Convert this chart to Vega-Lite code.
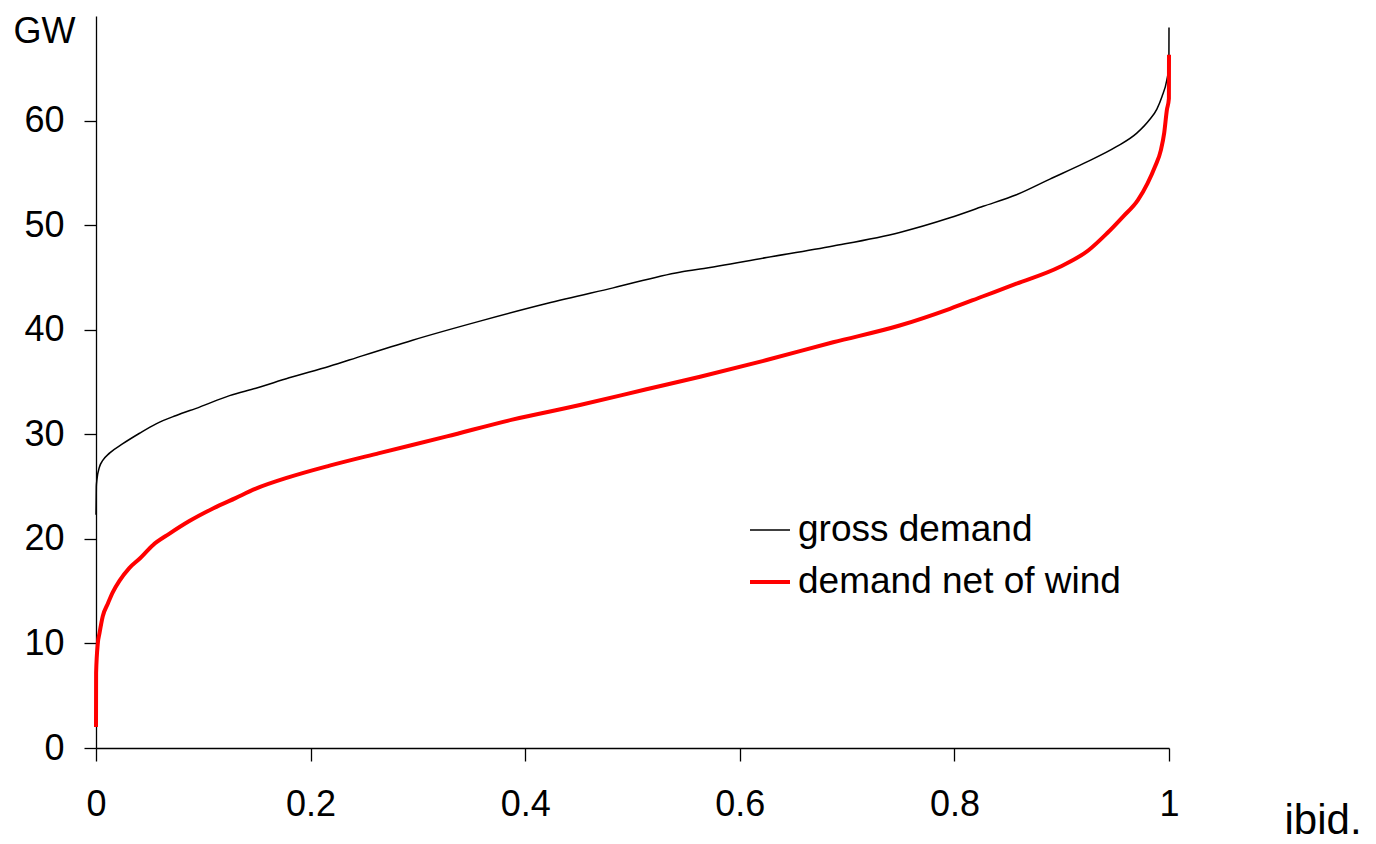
{
  "$schema": "https://vega.github.io/schema/vega-lite/v6.json",
  "width": 1073,
  "height": 732,
  "autosize": {"type": "none"},
  "padding": {"left": 96, "top": 16, "right": 207, "bottom": 96},
  "background": "white",
  "config": {
    "view": {"stroke": null},
    "font": "Liberation Sans",
    "axis": {"grid": false, "domainColor": "black", "tickColor": "black", "labelColor": "black", "titleColor": "black", "labelFont": "Liberation Sans", "titleFont": "Liberation Sans", "labelFontSize": 36, "titleFontWeight": "normal", "domainWidth": 1.3, "tickWidth": 1.3}
  },
  "data": {
    "values": [
      {"series": "gross demand", "i": 0, "x": 0, "gw": 22.3},
      {"series": "gross demand", "i": 1, "x": 0.0003, "gw": 25.0},
      {"series": "gross demand", "i": 2, "x": 0.0008, "gw": 25.6},
      {"series": "gross demand", "i": 3, "x": 0.0033, "gw": 26.9},
      {"series": "gross demand", "i": 4, "x": 0.0063, "gw": 27.5},
      {"series": "gross demand", "i": 5, "x": 0.0126, "gw": 28.2},
      {"series": "gross demand", "i": 6, "x": 0.025, "gw": 29.1},
      {"series": "gross demand", "i": 7, "x": 0.0406, "gw": 30.1},
      {"series": "gross demand", "i": 8, "x": 0.056, "gw": 31.0},
      {"series": "gross demand", "i": 9, "x": 0.0748, "gw": 31.8},
      {"series": "gross demand", "i": 10, "x": 0.0965, "gw": 32.6},
      {"series": "gross demand", "i": 11, "x": 0.1245, "gw": 33.7},
      {"series": "gross demand", "i": 12, "x": 0.149, "gw": 34.4},
      {"series": "gross demand", "i": 13, "x": 0.18, "gw": 35.4},
      {"series": "gross demand", "i": 14, "x": 0.2177, "gw": 36.5},
      {"series": "gross demand", "i": 15, "x": 0.248, "gw": 37.5},
      {"series": "gross demand", "i": 16, "x": 0.295, "gw": 39.0},
      {"series": "gross demand", "i": 17, "x": 0.357, "gw": 40.8},
      {"series": "gross demand", "i": 18, "x": 0.42, "gw": 42.5},
      {"series": "gross demand", "i": 19, "x": 0.482, "gw": 44.0},
      {"series": "gross demand", "i": 20, "x": 0.544, "gw": 45.5},
      {"series": "gross demand", "i": 21, "x": 0.563, "gw": 45.8},
      {"series": "gross demand", "i": 22, "x": 0.625, "gw": 46.9},
      {"series": "gross demand", "i": 23, "x": 0.687, "gw": 48.0},
      {"series": "gross demand", "i": 24, "x": 0.749, "gw": 49.3},
      {"series": "gross demand", "i": 25, "x": 0.7958, "gw": 50.7},
      {"series": "gross demand", "i": 26, "x": 0.8268, "gw": 51.8},
      {"series": "gross demand", "i": 27, "x": 0.8578, "gw": 52.9},
      {"series": "gross demand", "i": 28, "x": 0.889, "gw": 54.4},
      {"series": "gross demand", "i": 29, "x": 0.9205, "gw": 55.9},
      {"series": "gross demand", "i": 30, "x": 0.951, "gw": 57.5},
      {"series": "gross demand", "i": 31, "x": 0.97, "gw": 58.8},
      {"series": "gross demand", "i": 32, "x": 0.982, "gw": 60.1},
      {"series": "gross demand", "i": 33, "x": 0.9887, "gw": 61.1},
      {"series": "gross demand", "i": 34, "x": 0.9935, "gw": 62.3},
      {"series": "gross demand", "i": 35, "x": 0.998, "gw": 63.9},
      {"series": "gross demand", "i": 36, "x": 0.9999, "gw": 65.2},
      {"series": "gross demand", "i": 37, "x": 1, "gw": 68.9},
      {"series": "demand net of wind", "i": 0, "x": 0, "gw": 2.0},
      {"series": "demand net of wind", "i": 1, "x": 0.0001, "gw": 7.2},
      {"series": "demand net of wind", "i": 2, "x": 0.0017, "gw": 10.0},
      {"series": "demand net of wind", "i": 3, "x": 0.0033, "gw": 11.0},
      {"series": "demand net of wind", "i": 4, "x": 0.0063, "gw": 12.6},
      {"series": "demand net of wind", "i": 5, "x": 0.011, "gw": 13.8},
      {"series": "demand net of wind", "i": 6, "x": 0.0157, "gw": 14.9},
      {"series": "demand net of wind", "i": 7, "x": 0.022, "gw": 16.0},
      {"series": "demand net of wind", "i": 8, "x": 0.031, "gw": 17.2},
      {"series": "demand net of wind", "i": 9, "x": 0.0406, "gw": 18.1},
      {"series": "demand net of wind", "i": 10, "x": 0.053, "gw": 19.4},
      {"series": "demand net of wind", "i": 11, "x": 0.0685, "gw": 20.5},
      {"series": "demand net of wind", "i": 12, "x": 0.087, "gw": 21.7},
      {"series": "demand net of wind", "i": 13, "x": 0.109, "gw": 22.9},
      {"series": "demand net of wind", "i": 14, "x": 0.13, "gw": 23.9},
      {"series": "demand net of wind", "i": 15, "x": 0.149, "gw": 24.8},
      {"series": "demand net of wind", "i": 16, "x": 0.18, "gw": 25.9},
      {"series": "demand net of wind", "i": 17, "x": 0.2177, "gw": 27.0},
      {"series": "demand net of wind", "i": 18, "x": 0.264, "gw": 28.2},
      {"series": "demand net of wind", "i": 19, "x": 0.327, "gw": 29.8},
      {"series": "demand net of wind", "i": 20, "x": 0.388, "gw": 31.4},
      {"series": "demand net of wind", "i": 21, "x": 0.451, "gw": 32.8},
      {"series": "demand net of wind", "i": 22, "x": 0.513, "gw": 34.3},
      {"series": "demand net of wind", "i": 23, "x": 0.563, "gw": 35.5},
      {"series": "demand net of wind", "i": 24, "x": 0.625, "gw": 37.1},
      {"series": "demand net of wind", "i": 25, "x": 0.687, "gw": 38.8},
      {"series": "demand net of wind", "i": 26, "x": 0.749, "gw": 40.4},
      {"series": "demand net of wind", "i": 27, "x": 0.7958, "gw": 42.0},
      {"series": "demand net of wind", "i": 28, "x": 0.8268, "gw": 43.2},
      {"series": "demand net of wind", "i": 29, "x": 0.8578, "gw": 44.4},
      {"series": "demand net of wind", "i": 30, "x": 0.898, "gw": 46.0},
      {"series": "demand net of wind", "i": 31, "x": 0.925, "gw": 47.6},
      {"series": "demand net of wind", "i": 32, "x": 0.942, "gw": 49.2},
      {"series": "demand net of wind", "i": 33, "x": 0.957, "gw": 50.8},
      {"series": "demand net of wind", "i": 34, "x": 0.971, "gw": 52.4},
      {"series": "demand net of wind", "i": 35, "x": 0.98, "gw": 54.0},
      {"series": "demand net of wind", "i": 36, "x": 0.987, "gw": 55.6},
      {"series": "demand net of wind", "i": 37, "x": 0.9925, "gw": 57.2},
      {"series": "demand net of wind", "i": 38, "x": 0.9955, "gw": 58.8},
      {"series": "demand net of wind", "i": 39, "x": 0.998, "gw": 61.0},
      {"series": "demand net of wind", "i": 40, "x": 0.9999, "gw": 62.1},
      {"series": "demand net of wind", "i": 41, "x": 1, "gw": 66.3}
    ]
  },
  "mark": {"type": "line", "strokeJoin": "round", "strokeCap": "butt", "interpolate": "monotone"},
  "encoding": {
    "x": {
      "field": "x", "type": "quantitative",
      "scale": {"domain": [0, 1], "nice": false, "zero": false},
      "axis": {
        "values": [0, 0.2, 0.4, 0.6, 0.8, 1], "format": "~g", "labelFlush": false,
        "tickSize": 13, "labelPadding": 26, "labelAngle": 0,
        "title": "ibid.", "titleFontSize": 42, "titleAlign": "left", "titleBaseline": "alphabetic",
        "titleAnchor": null, "titleX": 1188, "titleY": 85, "titleAngle": 0
      }
    },
    "y": {
      "field": "gw", "type": "quantitative",
      "scale": {"domain": [0, 70], "nice": false},
      "axis": {
        "values": [0, 10, 20, 30, 40, 50, 60],
        "tickSize": 12, "labelPadding": 20, "labelBaseline": "middle",
        "title": "GW", "titleFontSize": 36, "titleAngle": 0, "titleAlign": "left", "titleBaseline": "alphabetic",
        "titleX": -83, "titleY": 26
      }
    },
    "order": {"field": "i", "type": "quantitative"},
    "color": {
      "field": "series", "type": "nominal",
      "scale": {"domain": ["gross demand", "demand net of wind"], "range": ["#000000", "#ff0000"]},
      "legend": {
        "title": null, "orient": "none", "legendX": 652, "legendY": 493,
        "symbolType": "stroke", "symbolSize": 1600, "labelFontSize": 37, "labelFont": "Liberation Sans",
        "labelColor": "black", "labelOffset": 6, "labelLimit": 0, "rowPadding": 12, "symbolOpacity": 1
      }
    },
    "strokeWidth": {
      "field": "series", "type": "nominal",
      "scale": {"domain": ["gross demand", "demand net of wind"], "range": [1.5, 4]},
      "legend": {
        "title": null, "orient": "none", "legendX": 652, "legendY": 493,
        "symbolType": "stroke", "symbolSize": 1600, "labelFontSize": 37, "labelFont": "Liberation Sans",
        "labelColor": "black", "labelOffset": 6, "labelLimit": 0, "rowPadding": 12, "symbolOpacity": 1
      }
    }
  }
}
